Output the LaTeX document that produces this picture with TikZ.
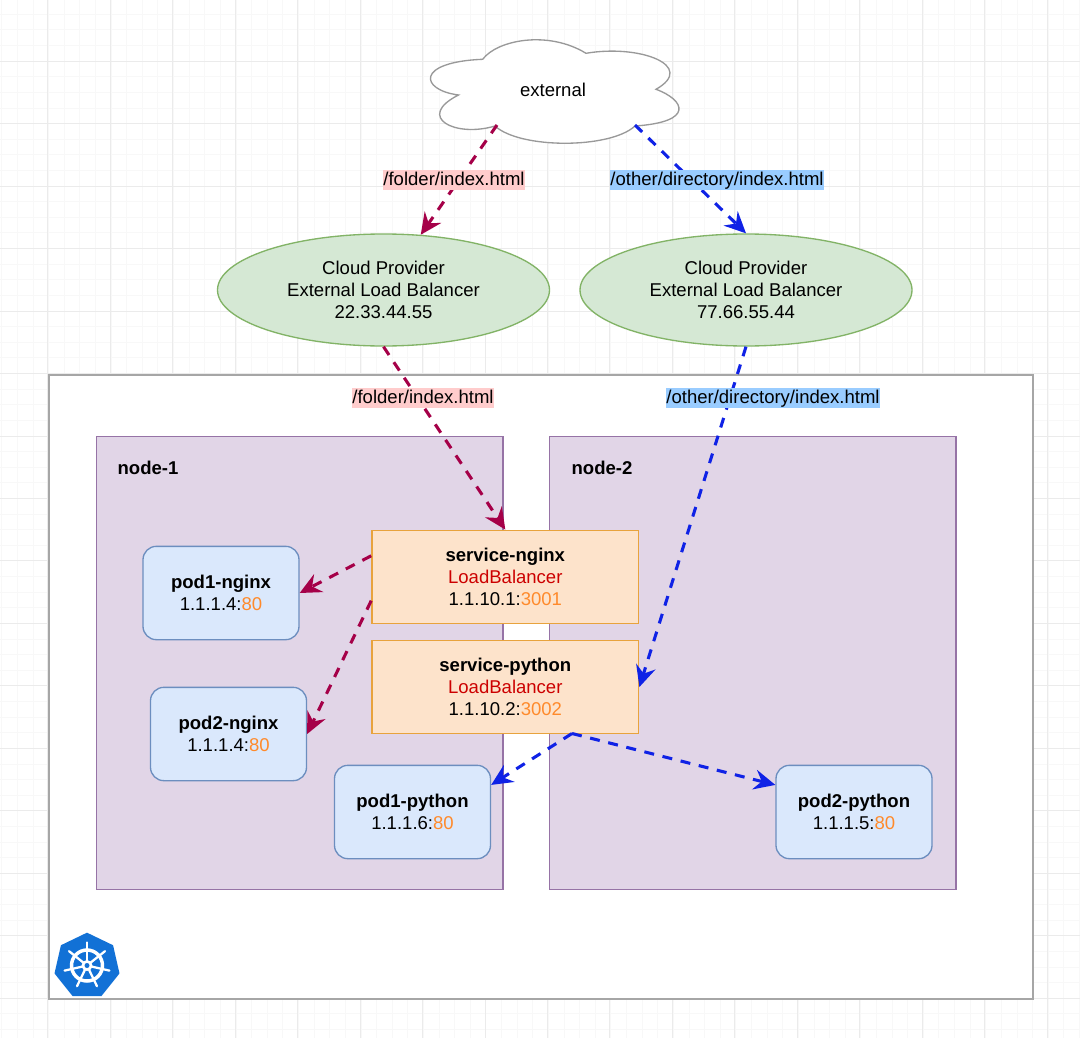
\documentclass[tikz,border=0pt]{standalone}
\usepackage{fontspec}
\setmainfont{Liberation Sans}
\usetikzlibrary{shapes,arrows,positioning,arrows.meta}
\definecolor{gridminor}{HTML}{F8F8F8}
\definecolor{gridmajor}{HTML}{EBEBEB}
\definecolor{redline}{HTML}{A50048}
\definecolor{blueline}{HTML}{0F22E6}
\definecolor{portorange}{HTML}{FF8A2B}
\definecolor{lbred}{HTML}{CC0000}
\definecolor{k8sblue}{HTML}{1271D6}
\definecolor{lbfill}{HTML}{D5E8D4}
\definecolor{lbdraw}{HTML}{82B366}
\definecolor{workerfill}{HTML}{E1D5E7}
\definecolor{workerdraw}{HTML}{9673A6}
\definecolor{svcfill}{HTML}{FDE3CB}
\definecolor{svcdraw}{HTML}{E8A33D}
\definecolor{podfill}{HTML}{DAE8FC}
\definecolor{poddraw}{HTML}{6C8EBF}
\definecolor{pinklabel}{HTML}{FFCCCC}
\definecolor{bluelabel}{HTML}{99CCFF}

\begin{document}
\begin{tikzpicture}[
    x=0.75pt,
    y=-0.75pt,
    lb/.style={ellipse, draw=lbdraw, fill=lbfill, line width=1pt, minimum width=249pt, minimum height=84pt, inner sep=0pt, align=center, font=\fontsize{13.9}{16.5}\selectfont},
    cluster/.style={rectangle, draw=black!35, fill=white, line width=1.5pt, minimum width=738pt, minimum height=468pt},
    worker/.style={rectangle, draw=workerdraw, fill=workerfill, line width=1pt, minimum width=305pt, minimum height=340pt},
    svc/.style={rectangle, draw=svcdraw, fill=svcfill, line width=1.1pt, minimum width=200pt, minimum height=70pt, align=center, font=\fontsize{13.9}{16.5}\selectfont},
    pod/.style={rectangle, rounded corners=10pt, draw=poddraw, fill=podfill, line width=1pt, minimum width=117pt, minimum height=70pt, align=center, font=\fontsize{13.9}{16.5}\selectfont},
    label/.style={inner xsep=0.5pt, inner ysep=0pt, text height=11.5pt, text depth=4pt, font=\fontsize{13.9}{14}\selectfont},
    redarrow/.style={redline, line width=2.3pt, dash pattern=on 7.5pt off 6.5pt, -{Stealth[length=16pt,width=15pt,inset=5.5pt]}},
    bluearrow/.style={blueline, line width=2.3pt, dash pattern=on 7.5pt off 6.5pt, -{Stealth[length=16pt,width=15pt,inset=5.5pt]}}
]
\useasboundingbox (0,0) rectangle (1080,1038);
\fill[white] (0,0) rectangle (1080,1038);

% background grid
\foreach \i in {0,...,69} {
    \draw[gridminor, line width=0.5pt] (\i*15.62+1.6,0) -- (\i*15.62+1.6,1038);
    \draw[gridminor, line width=0.5pt] (0,\i*15.62-1.5) -- (1080,\i*15.62-1.5);
}
\foreach \i in {0,...,17} {
    \draw[gridmajor, line width=0.5pt] (\i*62.48+47.5,0) -- (\i*62.48+47.5,1038);
    \draw[gridmajor, line width=0.5pt] (0,\i*62.48-1.5) -- (1080,\i*62.48-1.5);
}

% cluster and workers
\node [cluster] (cluster) at (541,687) {};
\node [worker] (node1) at (299.5,663) {};
\node [worker] (node2) at (752.5,663) {};
\node [font=\bfseries\fontsize{13.9}{14}\selectfont] (node1label) at (148,468) {node-1};
\node [font=\bfseries\fontsize{13.9}{14}\selectfont] (node2label) at (602,468) {node-2};

% cloud
\draw[fill=white, draw=black!40, line width=1pt]
    (482.7,59.3) .. controls (497,40) and (548,30) .. (586,53.3)
    .. controls (640,44) and (697,66) .. (656,89.3)
    .. controls (685,100) and (695,122) .. (635,126)
    .. controls (610,149) and (520,149) .. (495,126)
    .. controls (455,138) and (415,117) .. (458.5,95)
    .. controls (420,90) and (415,62) .. (482.7,59.3) -- cycle;
\node [font=\fontsize{13.9}{14}\selectfont] (external) at (553,90) {external};
\coordinate (cloudleft) at (497,125);
\coordinate (cloudright) at (635,125);

% load balancers
\node [lb] (lb1) at (383.5,290) {Cloud Provider\\External Load Balancer\\22.33.44.55};
\node [lb] (lb2) at (746,290) {Cloud Provider\\External Load Balancer\\77.66.55.44};

% services
\node [svc] (nginx) at (505.3,577) {\textbf{service-nginx}\\\textcolor{lbred}{LoadBalancer}\\1.1.10.1:\textcolor{portorange}{3001}};
\node [svc] (python) at (505.3,687) {\textbf{service-python}\\\textcolor{lbred}{LoadBalancer}\\1.1.10.2:\textcolor{portorange}{3002}};

% pods
\node [pod] (pod1nginx) at (221,593) {\textbf{pod1-nginx}\\1.1.1.4:\textcolor{portorange}{80}};
\node [pod] (pod2nginx) at (228.5,734) {\textbf{pod2-nginx}\\1.1.1.4:\textcolor{portorange}{80}};
\node [pod] (pod1python) at (412.5,812) {\textbf{pod1-python}\\1.1.1.6:\textcolor{portorange}{80}};
\node [pod] (pod2python) at (854,812) {\textbf{pod2-python}\\1.1.1.5:\textcolor{portorange}{80}};

% arrows
\draw [redarrow] (cloudleft) -- (lb1.56);
\draw [bluearrow] (cloudright) -- (lb2.north);
\draw [redarrow] (lb1.south) -- (nginx.north);
\draw [bluearrow] (lb2.south) -- (python.east);
\draw [redarrow] (nginx.171) -- (pod1nginx.east);
\draw [redarrow] (nginx.190) -- (pod2nginx.east);
\coordinate (pybranch) at (572,733.5);
\draw [bluearrow] (pybranch) -- (pod1python.19);
\draw [bluearrow] (pybranch) -- (pod2python.161);

% labels on arrows
\node [label, fill=pinklabel] (path1a) at (454,180) {/folder/index.html};
\node [label, fill=bluelabel] (path2a) at (717,180) {/other/directory/index.html};
\node [label, fill=pinklabel] (path1b) at (423,398) {/folder/index.html};
\node [label, fill=bluelabel] (path2b) at (773,398) {/other/directory/index.html};

% k8s logo
\node [regular polygon, regular polygon sides=7, fill=k8sblue, minimum size=50pt, inner sep=0pt] (logo) at (87,966) {};
\draw[white, line width=2.6pt] (87,965.5) circle (15.5);
\foreach \a in {-90,-38.57,...,260} {
    \draw[white, line width=1.7pt, line cap=round] (87,965.5) -- ++(\a:23);
}
\fill[white] (87,965.5) circle (5.5);
\fill[k8sblue] (87,965.5) circle (2.5);
\end{tikzpicture}
\end{document}
